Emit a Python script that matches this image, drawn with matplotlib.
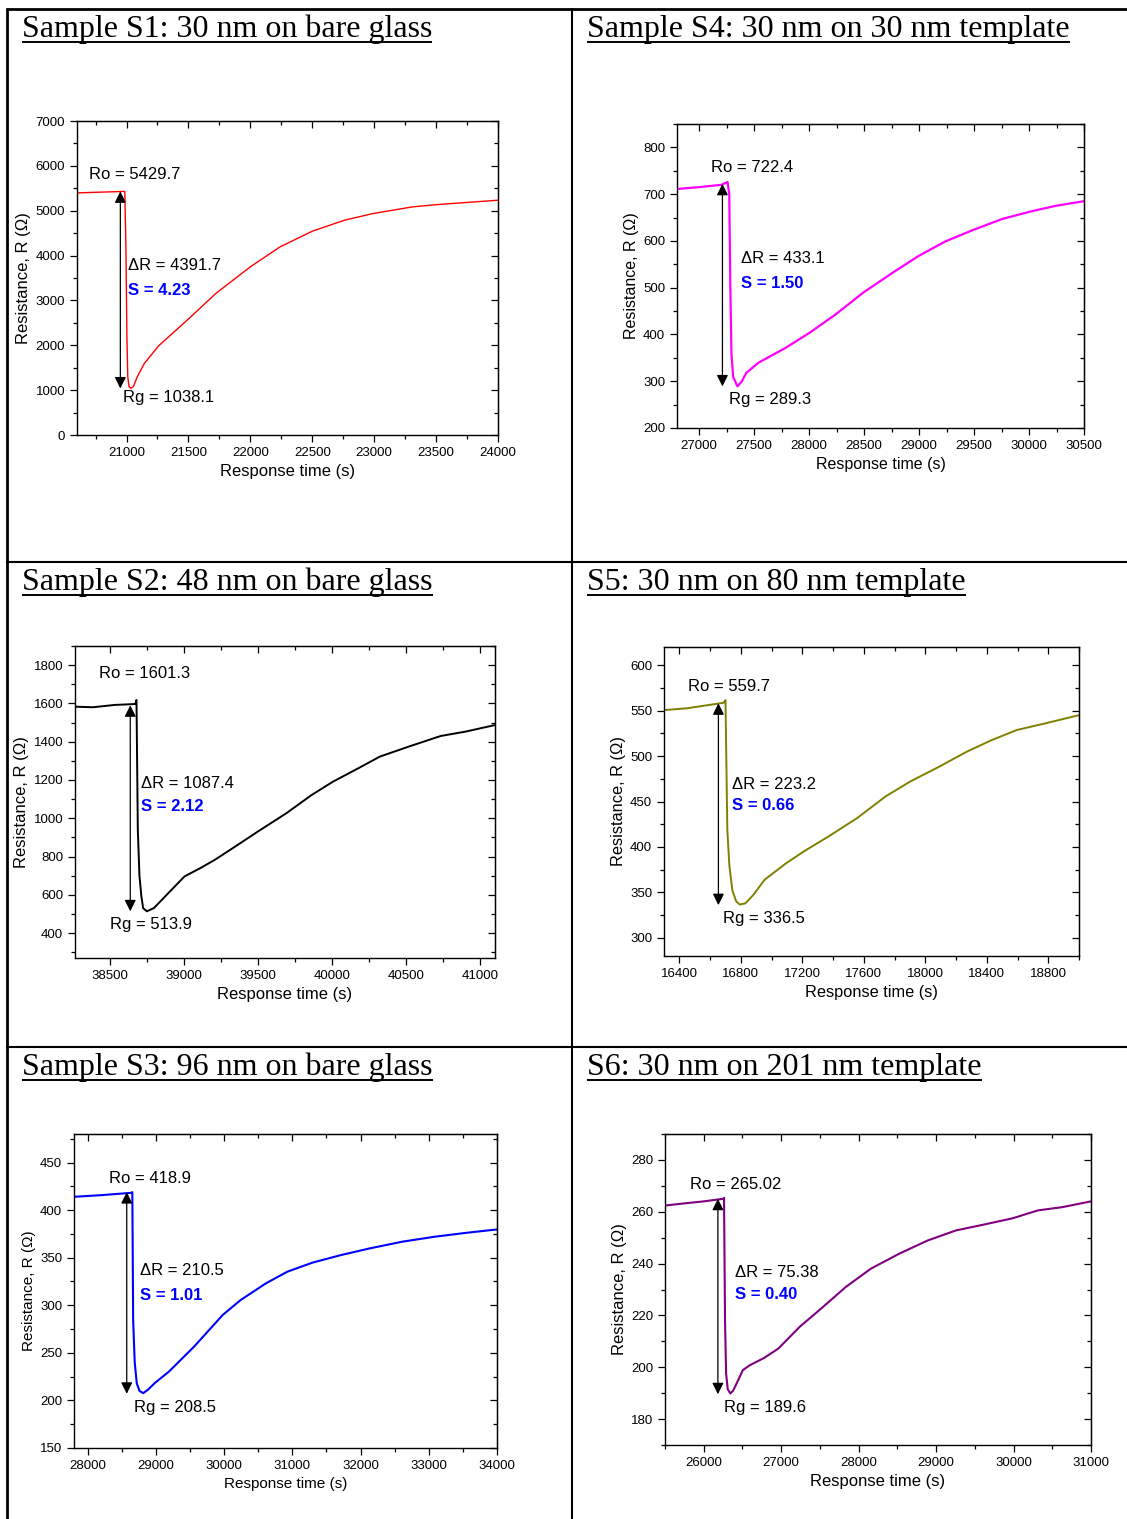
import matplotlib
matplotlib.use('Agg')
import matplotlib.pyplot as plt
from matplotlib.ticker import MultipleLocator, NullFormatter
from matplotlib.lines import Line2D

W, H = 1127, 1519
plt.rcParams['font.family'] = ['Liberation Sans', 'DejaVu Sans']

# --- values ---
s1_t = [20600, 20800, 20986, 20995, 21003, 21010, 21020, 21035, 21055, 21087, 21144, 21260, 21490, 21721,
        22000, 22240, 22500, 22760, 22990, 23308, 23510, 24000]
s1_r = [5397, 5415, 5430, 4200, 2200, 1300, 1080, 1040, 1080, 1300, 1596, 1990, 2561, 3155,
        3749, 4194, 4543, 4788, 4937, 5085, 5137, 5234]

s4_t = [26800, 27000, 27204, 27259, 27275, 27285, 27295, 27310, 27349, 27390, 27430, 27543, 27785, 28001,
        28237, 28496, 28754, 28997, 29240, 29498, 29757, 30016, 30242, 30500]
s4_r = [711, 715, 720, 726, 700, 500, 360, 310, 289, 300, 318, 340, 371, 403,
        442, 490, 531, 568, 599, 624, 647, 663, 675, 685]

s2_t = [38265, 38386, 38531, 38672, 38680, 38689, 38700, 38713, 38725, 38750, 38798, 38895, 39004, 39112,
        39209, 39330, 39500, 39693, 39863, 40008, 40177, 40322, 40516, 40734, 40903, 41100]
s2_r = [1583, 1580, 1592, 1597, 1618, 940, 700, 592, 530, 514, 531, 609, 696, 740,
        783, 844, 931, 1027, 1122, 1192, 1261, 1322, 1374, 1430, 1453, 1487]

s5_t = [16300, 16446, 16585, 16689, 16700, 16712, 16725, 16745, 16770, 16793, 16830, 16880, 16955, 17094, 17209,
        17371, 17556, 17741, 17902, 18087, 18272, 18434, 18596, 18781, 19000]
s5_r = [550.6, 552.5, 556, 558.7, 561.6, 419, 380, 352, 340, 336.6, 338, 347, 364, 382, 395,
        411.6, 431.7, 455.5, 472, 488, 505, 517.7, 528.7, 536, 545]

s3_t = [27800, 28194, 28641, 28655, 28667, 28690, 28720, 28760, 28814, 28880, 28983, 29193, 29561, 29981, 30244,
        30612, 30927, 31295, 31715, 32136, 32609, 33082, 33555, 34000]
s3_r = [414, 415.7, 418.2, 418.9, 284.6, 240, 218, 210, 207.7, 211, 218.2, 230.4, 256.6, 289.9, 305.6,
        323, 335.3, 344.8, 352.8, 359.8, 366.8, 372, 376.2, 379.7]

s6_t = [25500, 25771, 26000, 26252, 26262, 26275, 26289, 26310, 26344, 26380, 26413, 26505, 26596, 26780,
        26963, 27239, 27514, 27835, 28156, 28523, 28890, 29257, 29624, 29991, 30312, 30633, 31000]
s6_r = [262.4, 263.3, 264, 265, 265.4, 218, 197.6, 191.5, 189.9, 191, 193, 198.9, 200.8, 203.6,
        207.2, 215.6, 222.6, 231, 238, 243.8, 248.9, 252.8, 255.1, 257.5, 260.5, 261.8, 264]

titles = ['Sample S1: 30 nm on bare glass', 'Sample S4: 30 nm on 30 nm template',
          'Sample S2: 48 nm on bare glass', 'S5: 30 nm on 80 nm template',
          'Sample S3: 96 nm on bare glass', 'S6: 30 nm on 201 nm template']
ro_txt = ['Ro = 5429.7', 'Ro = 722.4', 'Ro = 1601.3', 'Ro = 559.7', 'Ro = 418.9', 'Ro = 265.02']
dr_txt = ['\u0394R = 4391.7', '\u0394R = 433.1', '\u0394R = 1087.4', '\u0394R = 223.2',
          '\u0394R = 210.5', '\u0394R = 75.38']
s_txt = ['S = 4.23', 'S = 1.50', 'S = 2.12', 'S = 0.66', 'S = 1.01', 'S = 0.40']
rg_txt = ['Rg = 1038.1', 'Rg = 289.3', 'Rg = 513.9', 'Rg = 336.5', 'Rg = 208.5', 'Rg = 189.6']

series = [(s1_t, s1_r), (s4_t, s4_r), (s2_t, s2_r), (s5_t, s5_r), (s3_t, s3_r), (s6_t, s6_r)]

# layout / style per panel: axes box in pixels (left, top, right, bottom), limits, ticks
panels = [
    dict(box=(77, 121, 498, 435), xlim=(20600, 24000), ylim=(0, 7000), xt=(500, 250), yt=(1000, 500),
         color='#ff0000', lw=1.0, lab=12,
         arrow=(20950, 5430, 1038), ro=(20700, 5800), dr=(21010, 3780), s=(21010, 3230), rg=(20970, 840)),
    dict(box=(677, 124, 1084, 428), xlim=(26800, 30500), ylim=(200, 850), xt=(500, 250), yt=(100, 50),
         color='#ff00ff', lw=1.6, lab=11.5,
         arrow=(27213, 722, 289), ro=(27107, 756), dr=(27381, 563), s=(27381, 510), rg=(27275, 261)),
    dict(box=(75, 646, 495, 958), xlim=(38265, 41100), ylim=(270, 1900), xt=(500, 250), yt=(200, 100),
         color='#000000', lw=1.4, lab=12,
         arrow=(38638, 1590, 514), ro=(38430, 1757), dr=(38713, 1180), s=(38713, 1061), rg=(38502, 444)),
    dict(box=(664, 647, 1079, 956), xlim=(16300, 19000), ylim=(280, 620), xt=(400, 200), yt=(50, 25),
         color='#808000', lw=1.4, lab=11.8,
         arrow=(16654, 558, 336), ro=(16458, 576), dr=(16742, 469), s=(16742, 445.6), rg=(16682, 321)),
    dict(box=(74, 1134, 497, 1448), xlim=(27800, 34000), ylim=(150, 480), xt=(1000, 500), yt=(50, 25),
         color='#0000ff', lw=1.5, lab=11,
         arrow=(28573, 418.9, 207), ro=(28310, 433.2), dr=(28772, 337), s=(28772, 310), rg=(28678, 193)),
    dict(box=(665, 1134, 1091, 1445), xlim=(25500, 31000), ylim=(170, 290), xt=(1000, 500), yt=(20, 10),
         color='#800080', lw=1.5, lab=12,
         arrow=(26183, 265, 189.6), ro=(25826, 270.5), dr=(26404, 236.7), s=(26404, 228.1), rg=(26257, 184.5)),
]

fig = plt.figure(figsize=(W / 100, H / 100), dpi=100)

for (t, r), p, i in zip(series, panels, range(6)):
    l, tp, rt, bt = p['box']
    ax = fig.add_axes([l / W, 1 - bt / H, (rt - l) / W, (bt - tp) / H])
    ax.plot(t, r, color=p['color'], lw=p['lw'])
    ax.set_xlim(*p['xlim'])
    ax.set_ylim(*p['ylim'])
    ax.xaxis.set_major_locator(MultipleLocator(p['xt'][0]))
    ax.xaxis.set_minor_locator(MultipleLocator(p['xt'][1]))
    ax.yaxis.set_major_locator(MultipleLocator(p['yt'][0]))
    ax.yaxis.set_minor_locator(MultipleLocator(p['yt'][1]))
    ax.tick_params(which='both', direction='out', top=False, right=False, labelsize=9.5, width=0.9)
    ax.tick_params(which='major', length=5)
    ax.tick_params(which='minor', length=3)
    for sp in ax.spines.values():
        sp.set_linewidth(1.0)
    # inward ticks on top and right
    sx = ax.secondary_xaxis('top')
    sx.xaxis.set_major_locator(MultipleLocator(p['xt'][0]))
    sx.xaxis.set_minor_locator(MultipleLocator(p['xt'][1]))
    sx.xaxis.set_major_formatter(NullFormatter())
    sx.tick_params(which='both', direction='in', width=0.9)
    sx.tick_params(which='major', length=5)
    sx.tick_params(which='minor', length=3)
    sy = ax.secondary_yaxis('right')
    sy.yaxis.set_major_locator(MultipleLocator(p['yt'][0]))
    sy.yaxis.set_minor_locator(MultipleLocator(p['yt'][1]))
    sy.yaxis.set_major_formatter(NullFormatter())
    sy.tick_params(which='both', direction='in', width=0.9)
    sy.tick_params(which='major', length=5)
    sy.tick_params(which='minor', length=3)

    ax.set_xlabel('Response time (s)', fontsize=p['lab'], labelpad=4)
    ax.set_ylabel('Resistance, R (\u03a9)', fontsize=p['lab'], labelpad=3)

    ax_x, y_top, y_bot = p['arrow']
    ax.annotate('', xy=(ax_x, y_top), xytext=(ax_x, y_bot),
                arrowprops=dict(arrowstyle='<|-|>', color='black', lw=0.9,
                                mutation_scale=17, shrinkA=0, shrinkB=0))
    ax.text(*p['ro'], ro_txt[i], fontsize=12, va='center', ha='left')
    ax.text(*p['dr'], dr_txt[i], fontsize=12, va='center', ha='left')
    ax.text(*p['s'], s_txt[i], fontsize=12, va='center', ha='left', color='#0000ff', fontweight='bold')
    ax.text(*p['rg'], rg_txt[i], fontsize=12, va='center', ha='left')

# table grid
def hline(y, x0, x1, lw):
    fig.add_artist(Line2D([x0 / W, x1 / W], [1 - y / H, 1 - y / H], color='black', lw=lw,
                          transform=fig.transFigure, solid_capstyle='butt'))

def vline(x, y0, y1, lw):
    fig.add_artist(Line2D([x / W, x / W], [1 - y0 / H, 1 - y1 / H], color='black', lw=lw,
                          transform=fig.transFigure, solid_capstyle='butt'))

hline(8.5, 6, W, 2.0)
hline(561.5, 6, W, 1.5)
hline(1047, 6, W, 1.5)
vline(7, 7.5, H, 2.0)
vline(572, 7.5, H, 1.5)

# panel titles, underlined
title_pos = [(22, 37), (587, 37), (22, 590), (587, 590), (22, 1075), (587, 1075)]
texts = []
for (x, y), ttl in zip(title_pos, titles):
    texts.append(fig.text(x / W, 1 - y / H, ttl, fontsize=23, va='baseline', ha='left',
                          family=['Liberation Serif', 'DejaVu Serif']))
fig.canvas.draw()
for (x, y), tx in zip(title_pos, texts):
    bb = tx.get_window_extent()
    hline(y + 5, bb.x0, bb.x1, 1.4)

fig.savefig('out.png', dpi=100)
